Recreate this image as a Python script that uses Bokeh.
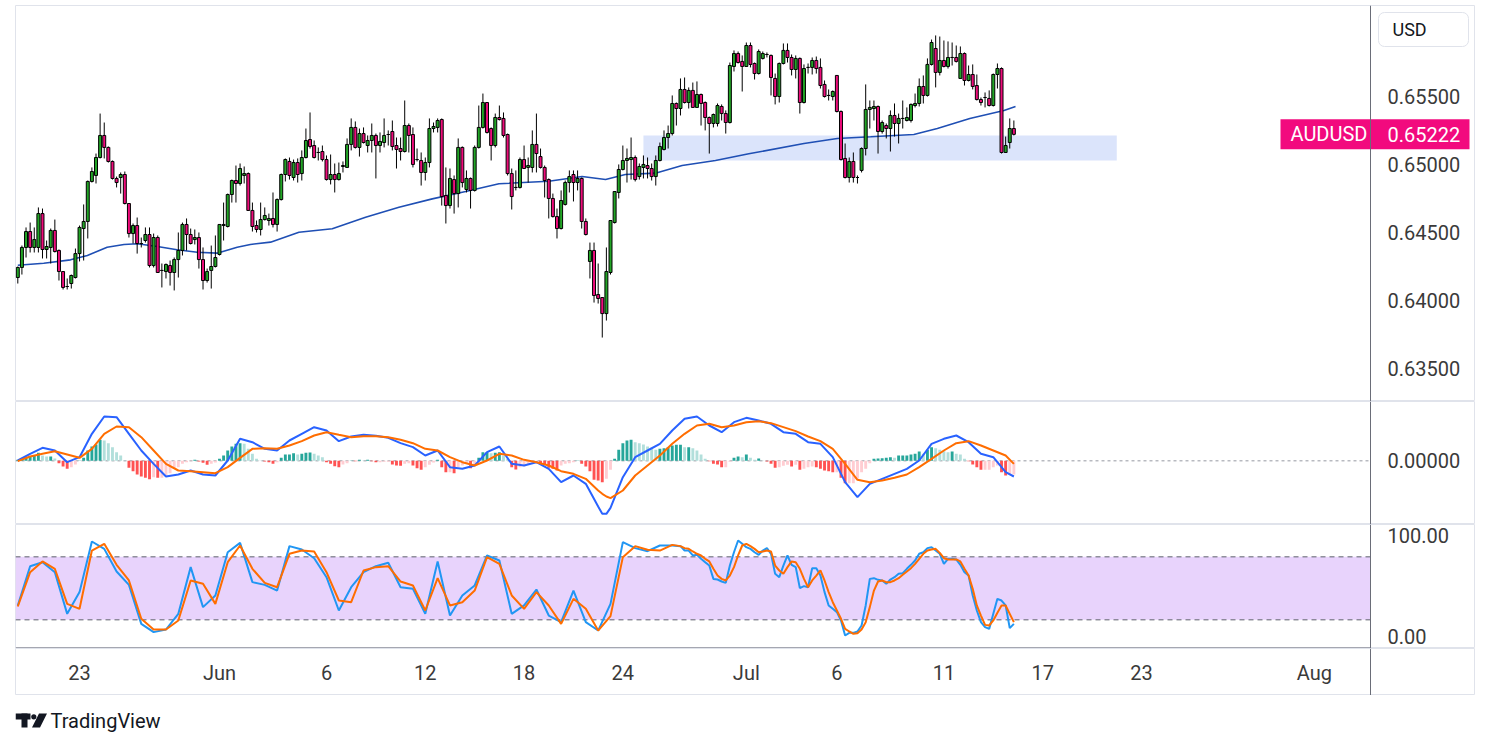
from bokeh.plotting import figure
from bokeh.layouts import column
from bokeh.models import Range1d, Span, ColumnDataSource
from bokeh.embed import file_html
from bokeh.resources import INLINE
from bokeh.core.properties import value

# ---------------- data (4H AUDUSD candles) ----------------
opens = [0.64170, 0.64244, 0.64391, 0.64508, 0.64391, 0.64391, 0.64640, 0.64376, 0.64391, 0.64516,
 0.64369, 0.64214, 0.64104, 0.64126, 0.64170, 0.64346, 0.64530, 0.64582, 0.64876, 0.64920,
 0.65052, 0.65214, 0.65126, 0.65023, 0.64898, 0.64905, 0.64927, 0.64714, 0.64493, 0.64552,
 0.64420, 0.64442, 0.64486, 0.64258, 0.64464, 0.64222, 0.64214, 0.64258, 0.64207, 0.64302,
 0.64369, 0.64560, 0.64486, 0.64449, 0.64464, 0.64302, 0.64148, 0.64222, 0.64251, 0.64339,
 0.64552, 0.64545, 0.64780, 0.64883, 0.64861, 0.64920, 0.64934, 0.64663, 0.64552, 0.64523,
 0.64596, 0.64589, 0.64604, 0.64560, 0.64743, 0.64927, 0.65023, 0.64905, 0.65015, 0.64934,
 0.65052, 0.65184, 0.65140, 0.65089, 0.65096, 0.65037, 0.64890, 0.64927, 0.64890, 0.64986,
 0.64979, 0.65148, 0.65273, 0.65126, 0.65228, 0.65140, 0.65177, 0.65214, 0.65140, 0.65162,
 0.65221, 0.65243, 0.65140, 0.65118, 0.65096, 0.65287, 0.65221, 0.65037, 0.65030, 0.64942,
 0.65015, 0.65265, 0.65273, 0.65331, 0.64773, 0.64699, 0.64890, 0.64787, 0.65126, 0.64817,
 0.64898, 0.64810, 0.65126, 0.65273, 0.65456, 0.65265, 0.65140, 0.65346, 0.65339, 0.65221,
 0.64934, 0.64832, 0.64832, 0.65037, 0.64979, 0.64979, 0.65148, 0.65059, 0.64979, 0.64890,
 0.64751, 0.64618, 0.64530, 0.64707, 0.64868, 0.64927, 0.64868, 0.64898, 0.64582, 0.64288,
 0.64369, 0.64045, 0.64023, 0.63905, 0.64207, 0.64574, 0.64795, 0.64964, 0.65030, 0.65037,
 0.65052, 0.64912, 0.64979, 0.64993, 0.64971, 0.64912, 0.65030, 0.65111, 0.65199, 0.65228,
 0.65449, 0.65412, 0.65552, 0.65456, 0.65545, 0.65420, 0.65515, 0.65456, 0.65346, 0.65302,
 0.65302, 0.65427, 0.65375, 0.65309, 0.65721, 0.65816, 0.65758, 0.65721, 0.65875, 0.65743,
 0.65669, 0.65780, 0.65809, 0.65802, 0.65633, 0.65500, 0.65743, 0.65839, 0.65787, 0.65699,
 0.65780, 0.65456, 0.65714, 0.65714, 0.65765, 0.65714, 0.65589, 0.65508, 0.65500, 0.65655,
 0.65390, 0.65045, 0.64905, 0.65023, 0.64905, 0.64957, 0.65118, 0.65405, 0.65412, 0.65427,
 0.65243, 0.65287, 0.65265, 0.65361, 0.65302, 0.65339, 0.65324, 0.65324, 0.65434, 0.65449,
 0.65574, 0.65508, 0.65736, 0.65853, 0.65677, 0.65765, 0.65721, 0.65787, 0.65787, 0.65633,
 0.65816, 0.65618, 0.65662, 0.65581, 0.65478, 0.65493, 0.65486, 0.65434, 0.65662, 0.65706,
 0.65089, 0.65162, 0.65265]

highs = [0.64251, 0.64405, 0.64538, 0.64574, 0.64538, 0.64685, 0.64677, 0.64442, 0.64530, 0.64596,
 0.64376, 0.64214, 0.64163, 0.64192, 0.64383, 0.64552, 0.64707, 0.64883, 0.64979, 0.65081,
 0.65375, 0.65309, 0.65133, 0.65030, 0.64912, 0.64942, 0.64949, 0.64714, 0.64567, 0.64611,
 0.64464, 0.64538, 0.64538, 0.64493, 0.64479, 0.64273, 0.64273, 0.64295, 0.64317, 0.64501,
 0.64574, 0.64604, 0.64530, 0.64523, 0.64501, 0.64391, 0.64236, 0.64405, 0.64479, 0.64560,
 0.64721, 0.64787, 0.64890, 0.64993, 0.65008, 0.64986, 0.64942, 0.64721, 0.64589, 0.64721,
 0.64685, 0.64640, 0.64795, 0.64751, 0.64934, 0.65045, 0.65052, 0.65037, 0.65045, 0.65104,
 0.65265, 0.65383, 0.65177, 0.65126, 0.65140, 0.65067, 0.65074, 0.65008, 0.65015, 0.65023,
 0.65192, 0.65339, 0.65317, 0.65265, 0.65273, 0.65214, 0.65302, 0.65228, 0.65236, 0.65339,
 0.65251, 0.65324, 0.65199, 0.65199, 0.65471, 0.65302, 0.65273, 0.65118, 0.65089, 0.65052,
 0.65339, 0.65309, 0.65339, 0.65339, 0.64979, 0.64971, 0.64920, 0.65192, 0.65133, 0.64957,
 0.64905, 0.65140, 0.65434, 0.65522, 0.65456, 0.65273, 0.65375, 0.65434, 0.65383, 0.65228,
 0.64971, 0.64957, 0.65052, 0.65140, 0.65052, 0.65251, 0.65375, 0.65118, 0.64993, 0.64898,
 0.64787, 0.64677, 0.64810, 0.64883, 0.64957, 0.64957, 0.64957, 0.64905, 0.64604, 0.64427,
 0.64427, 0.64273, 0.64023, 0.64391, 0.64589, 0.64802, 0.65001, 0.65140, 0.65118, 0.65199,
 0.65067, 0.65008, 0.65067, 0.65052, 0.65008, 0.65067, 0.65162, 0.65251, 0.65287, 0.65508,
 0.65456, 0.65633, 0.65640, 0.65567, 0.65603, 0.65611, 0.65522, 0.65464, 0.65353, 0.65375,
 0.65449, 0.65442, 0.65398, 0.65750, 0.65839, 0.65831, 0.65802, 0.65897, 0.65897, 0.65750,
 0.65846, 0.65831, 0.65824, 0.65809, 0.65669, 0.65750, 0.65890, 0.65890, 0.65809, 0.65802,
 0.65787, 0.65736, 0.65743, 0.65787, 0.65794, 0.65780, 0.65618, 0.65552, 0.65545, 0.65655,
 0.65398, 0.65155, 0.65052, 0.65089, 0.64920, 0.65126, 0.65589, 0.65471, 0.65471, 0.65434,
 0.65324, 0.65302, 0.65398, 0.65449, 0.65375, 0.65471, 0.65420, 0.65449, 0.65522, 0.65633,
 0.65655, 0.65780, 0.65919, 0.65949, 0.65941, 0.65912, 0.65905, 0.65897, 0.65875, 0.65868,
 0.65824, 0.65728, 0.65736, 0.65662, 0.65493, 0.65530, 0.65545, 0.65669, 0.65743, 0.65714,
 0.65206, 0.65339, 0.65324]

lows = [0.64126, 0.64192, 0.64317, 0.64354, 0.64354, 0.64354, 0.64310, 0.64310, 0.64273, 0.64354,
 0.64148, 0.64082, 0.64082, 0.64089, 0.64163, 0.64288, 0.64295, 0.64457, 0.64868, 0.64861,
 0.65045, 0.65045, 0.65015, 0.64890, 0.64832, 0.64787, 0.64707, 0.64464, 0.64420, 0.64346,
 0.64391, 0.64427, 0.64244, 0.64244, 0.64207, 0.64097, 0.64163, 0.64111, 0.64075, 0.64170,
 0.64332, 0.64369, 0.64413, 0.64413, 0.64236, 0.64082, 0.64133, 0.64089, 0.64244, 0.64332,
 0.64442, 0.64538, 0.64721, 0.64721, 0.64846, 0.64861, 0.64663, 0.64508, 0.64501, 0.64479,
 0.64589, 0.64552, 0.64538, 0.64508, 0.64736, 0.64876, 0.64890, 0.64883, 0.64868, 0.64883,
 0.65045, 0.65118, 0.65045, 0.65030, 0.65023, 0.64883, 0.64854, 0.64795, 0.64883, 0.64942,
 0.64979, 0.65104, 0.65118, 0.65059, 0.65155, 0.65089, 0.65089, 0.64898, 0.65089, 0.65126,
 0.65140, 0.65104, 0.64971, 0.65030, 0.65089, 0.65089, 0.64979, 0.65023, 0.64846, 0.64883,
 0.64979, 0.65236, 0.65236, 0.64699, 0.64567, 0.64677, 0.64640, 0.64685, 0.64832, 0.64795,
 0.64677, 0.64802, 0.65118, 0.65265, 0.65228, 0.65030, 0.65126, 0.65324, 0.65199, 0.64920,
 0.64670, 0.64810, 0.64824, 0.64971, 0.64868, 0.64942, 0.64942, 0.64971, 0.64758, 0.64604,
 0.64611, 0.64457, 0.64523, 0.64699, 0.64795, 0.64729, 0.64810, 0.64530, 0.64479, 0.64163,
 0.63986, 0.63979, 0.63729, 0.63854, 0.64192, 0.64567, 0.64751, 0.64957, 0.64868, 0.64890,
 0.64876, 0.64890, 0.64898, 0.64898, 0.64883, 0.64846, 0.65023, 0.65104, 0.65118, 0.65214,
 0.65287, 0.65361, 0.65449, 0.65412, 0.65420, 0.65420, 0.65287, 0.65251, 0.65081, 0.65273,
 0.65280, 0.65324, 0.65228, 0.65302, 0.65684, 0.65743, 0.65537, 0.65721, 0.65714, 0.65625,
 0.65662, 0.65772, 0.65787, 0.65508, 0.65442, 0.65456, 0.65736, 0.65750, 0.65655, 0.65633,
 0.65375, 0.65449, 0.65669, 0.65662, 0.65669, 0.65559, 0.65493, 0.65471, 0.65471, 0.65383,
 0.65030, 0.64898, 0.64868, 0.64868, 0.64861, 0.64942, 0.65067, 0.65265, 0.65324, 0.65081,
 0.65228, 0.65192, 0.65096, 0.65206, 0.65155, 0.65265, 0.65317, 0.65309, 0.65420, 0.65427,
 0.65449, 0.65500, 0.65728, 0.65567, 0.65655, 0.65714, 0.65706, 0.65728, 0.65750, 0.65633,
 0.65581, 0.65611, 0.65552, 0.65471, 0.65434, 0.65420, 0.65427, 0.65427, 0.65559, 0.65081,
 0.65089, 0.65118, 0.65214]

closes = [0.64244, 0.64391, 0.64508, 0.64391, 0.64449, 0.64640, 0.64376, 0.64398, 0.64516, 0.64361,
 0.64214, 0.64097, 0.64104, 0.64185, 0.64346, 0.64538, 0.64582, 0.64876, 0.64949, 0.65052,
 0.65214, 0.65126, 0.65023, 0.64898, 0.64868, 0.64927, 0.64714, 0.64493, 0.64552, 0.64420,
 0.64420, 0.64486, 0.64258, 0.64464, 0.64207, 0.64222, 0.64266, 0.64207, 0.64302, 0.64369,
 0.64560, 0.64486, 0.64420, 0.64464, 0.64302, 0.64148, 0.64214, 0.64251, 0.64317, 0.64560,
 0.64560, 0.64780, 0.64883, 0.64861, 0.64971, 0.64934, 0.64663, 0.64545, 0.64523, 0.64596,
 0.64626, 0.64604, 0.64560, 0.64743, 0.64927, 0.65037, 0.64920, 0.65015, 0.64927, 0.65052,
 0.65177, 0.65133, 0.65052, 0.65089, 0.65037, 0.64890, 0.64927, 0.64890, 0.64934, 0.64993,
 0.65148, 0.65273, 0.65126, 0.65228, 0.65162, 0.65177, 0.65214, 0.65140, 0.65170, 0.65214,
 0.65221, 0.65133, 0.65111, 0.65096, 0.65287, 0.65214, 0.65001, 0.65037, 0.64942, 0.65015,
 0.65265, 0.65280, 0.65324, 0.64765, 0.64699, 0.64898, 0.64787, 0.65126, 0.64868, 0.64898,
 0.64810, 0.65126, 0.65273, 0.65456, 0.65236, 0.65140, 0.65346, 0.65331, 0.65214, 0.64934,
 0.64765, 0.64832, 0.65037, 0.64971, 0.64993, 0.65148, 0.65081, 0.64979, 0.64883, 0.64751,
 0.64618, 0.64530, 0.64736, 0.64868, 0.64912, 0.64868, 0.64898, 0.64582, 0.64486, 0.64369,
 0.64038, 0.64016, 0.63905, 0.64214, 0.64589, 0.64802, 0.64964, 0.65030, 0.65045, 0.65052,
 0.64890, 0.64986, 0.65001, 0.64971, 0.64912, 0.65030, 0.65133, 0.65199, 0.65228, 0.65449,
 0.65412, 0.65552, 0.65456, 0.65545, 0.65420, 0.65515, 0.65449, 0.65346, 0.65302, 0.65368,
 0.65434, 0.65375, 0.65309, 0.65728, 0.65816, 0.65750, 0.65721, 0.65875, 0.65736, 0.65669,
 0.65831, 0.65816, 0.65809, 0.65640, 0.65500, 0.65743, 0.65839, 0.65787, 0.65699, 0.65780,
 0.65456, 0.65706, 0.65714, 0.65765, 0.65706, 0.65581, 0.65500, 0.65508, 0.65537, 0.65390,
 0.65037, 0.64905, 0.65023, 0.64905, 0.64905, 0.65118, 0.65405, 0.65420, 0.65427, 0.65243,
 0.65309, 0.65265, 0.65361, 0.65302, 0.65339, 0.65339, 0.65346, 0.65442, 0.65449, 0.65574,
 0.65508, 0.65736, 0.65897, 0.65677, 0.65765, 0.65721, 0.65787, 0.65787, 0.65758, 0.65816,
 0.65618, 0.65662, 0.65574, 0.65478, 0.65456, 0.65493, 0.65434, 0.65662, 0.65706, 0.65089,
 0.65140, 0.65265, 0.65222]

# 200-period moving average (sampled points)
ma_idx = [0, 6.3, 12.8, 16.9, 21.7, 25.8, 29, 33.9, 38.7, 43.6, 48.4, 53.3, 56.5, 61.4, 68.3, 76.4,
          84.5, 92.6, 100.7, 108.8, 116.9, 129, 137.1, 142.8, 147.6, 154.9, 161.4, 169.5, 177.6,
          191, 199.1, 207.2, 217.7, 223.4, 231.3, 239.6, 242.4]
ma_val = [0.64260, 0.64275, 0.64300, 0.64332, 0.64393, 0.64413, 0.64418, 0.64398, 0.64374, 0.64356,
          0.64349, 0.64393, 0.64413, 0.64430, 0.64503, 0.64528, 0.64613, 0.64687, 0.64748, 0.64802,
          0.64859, 0.64878, 0.64912, 0.64890, 0.64927, 0.64937, 0.64993, 0.65030, 0.65079, 0.65155,
          0.65192, 0.65204, 0.65221, 0.65265, 0.65339, 0.65398, 0.65427]

# support zone
zone_start = [152]
zone_end = [267]
zone_low = [0.65030]
zone_high = [0.65214]
symbol = "AUDUSD"
currency = "USD"
last_price = 0.65222

# price scale ticks
price_ticks = [0.655, 0.650, 0.645, 0.640, 0.635]
price_tick_labels = ["0.65500", "0.65000", "0.64500", "0.64000", "0.63500"]

# MACD (12, 26, 9)
macd_idx = [0, 3, 6, 9, 12, 15, 18, 21, 24, 27, 30, 33, 36, 39, 42, 45, 48, 51, 54, 57, 60, 63, 66,
            69, 72, 75, 78, 81, 84, 87, 90, 93, 96, 99, 102, 105, 108, 111, 114, 117, 120, 123, 126,
            129, 132, 135, 138, 141, 142, 143, 144, 147, 150, 153, 156, 159, 162, 165, 168, 171, 174,
            177, 180, 183, 186, 189, 192, 195, 198, 201, 204, 207, 210, 213, 216, 219, 222, 225, 228,
            231, 234, 237, 240, 242]
macd_line = [0.000005, 0.000105, 0.000195, 0.000155, -0.00002, 0.000055, 0.000405, 0.000665, 0.000655,
             0.000405, 0.000155, -0.000045, -0.000235, -0.000205, -0.000145, -0.000205, -0.00022,
             0.000005, 0.00033, 0.00028, 0.00018, 0.000155, 0.000305, 0.000405, 0.000505, 0.000455,
             0.000295, 0.000365, 0.00039, 0.000375, 0.000345, 0.000265, 0.000205, 0.00008, 0.000155,
             -0.000095, -0.00012, -0.00007, 0.00013, 0.000215, -0.000045, -0.00007, -0.00002, -0.00012,
             -0.00032, -0.00022, -0.000345, -0.000685, -0.000795, -0.000795, -0.000705, -0.000245,
             0.000055, 0.000155, 0.000255, 0.000455, 0.00063, 0.000665, 0.00053, 0.00043, 0.00058,
             0.000645, 0.000605, 0.000555, 0.00043, 0.000405, 0.00028, 0.000255, 0.000055, -0.00032,
             -0.000545, -0.000345, -0.00027, -0.000195, -0.00012, 0.000005, 0.000255, 0.00033, 0.00038,
             0.00028, 0.000105, 0.000055, -0.00017, -0.000235]
signal_line = [-0.000005, 0.000065, 0.000105, 0.000145, 0.000095, 0.000045, 0.00018, 0.000405, 0.000515,
               0.000505, 0.000355, 0.000155, -0.000045, -0.000145, -0.000155, -0.00017, -0.000185,
               -0.000095, 0.000045, 0.00018, 0.00019, 0.00018, 0.00023, 0.000295, 0.00038, 0.00043,
               0.00039, 0.000355, 0.00037, 0.00037, 0.000355, 0.000315, 0.000265, 0.00018, 0.000155,
               0.000055, -0.00002, -0.00007, 0.000005, 0.000105, 0.00008, 0.000015, -0.00002, -0.00007,
               -0.000155, -0.000195, -0.00027, -0.000445, -0.000495, -0.000535, -0.00056, -0.000445,
               -0.00022, -0.00007, 0.00008, 0.000255, 0.000405, 0.00053, 0.000555, 0.000505, 0.00053,
               0.00058, 0.000595, 0.000565, 0.000505, 0.000445, 0.000365, 0.000295, 0.00018, -0.000045,
               -0.000285, -0.00032, -0.000295, -0.000255, -0.000205, -0.000095, 0.00003, 0.000155,
               0.000265, 0.000295, 0.00023, 0.000155, 0.00008, -0.000045]
hist = [0.000015, 0.00003, 0.000055, 0.000065, 0.00008, 0.00012, 0.00008, 0.000065, 0.000065, 0.000035,
 -0.000035, -0.000085, -0.00012, -0.000095, -0.000055, 0.000005, 0.000045, 0.000155, 0.000215, 0.000245,
 0.000315, 0.000305, 0.000265, 0.000205, 0.00013, 0.00008, 0.000005, -0.000105, -0.000155, -0.000205,
 -0.000235, -0.000255, -0.000275, -0.000245, -0.000255, -0.000255, -0.00022, -0.000185, -0.00012, -0.000095,
 -0.000045, -0.00002, -0.000005, 0.000015, -0.00001, -0.00003, -0.00006, -0.000045, -0.000025, 0.00003,
 0.00008, 0.000155, 0.000215, 0.000255, 0.000265, 0.000255, 0.00018, 0.000105, 0.00003, 0.000005,
 -0.00001, -0.00002, -0.000045, -0.00002, 0.000045, 0.000095, 0.000095, 0.000115, 0.000095, 0.000105,
 0.00012, 0.000125, 0.000105, 0.00008, 0.000055, -0.00002, -0.000045, -0.00008, -0.000095, -0.000055,
 -0.000035, 0.000005, -0.000005, 0.000015, 0.000005, 0.000015, -0.000005, -0.00002, -0.00002, -0.000015,
 -0.000015, -0.000055, -0.00007, -0.000075, -0.000045, -0.000035, -0.00007, -0.00011, -0.000135, -0.000095,
 -0.00006, -0.000025, 0.000015, -0.000095, -0.00017, -0.00017, -0.000185, -0.000095, -0.00007, -0.000045,
 -0.00011, -0.00007, 0.000045, 0.00013, 0.00013, 0.000115, 0.00012, 0.00013, 0.00008, 0.00003,
 -0.000095, -0.00013, -0.000095, -0.000085, -0.000055, -0.00002, -0.00001, -0.000035, -0.000055, -0.000105,
 -0.00012, -0.000145, -0.00007, -0.000045, -0.000035, -0.00002, 0.000005, -0.000045, -0.000085, -0.000155,
 -0.000285, -0.000295, -0.00032, -0.00027, -0.000135, 0.00003, 0.000165, 0.000265, 0.000305, 0.000315,
 0.00028, 0.000265, 0.000245, 0.000215, 0.000195, 0.000165, 0.00018, 0.00019, 0.000205, 0.00023,
 0.00024, 0.00024, 0.000205,
 0.000205, 0.00019, 0.000155, 0.000095, 0.00003, -0.000005, -0.000045, -0.000055, -0.000095, -0.000095,
 -0.000015, 0.000045, 0.000065, 0.000055, 0.000095, 0.000045, 0.000015, 0.000035, 0.000005, -0.00001,
 -0.000045, -0.000105, -0.000095, -0.000075, -0.00006, -0.000085, -0.00006, -0.000135, -0.00012, -0.000095,
 -0.000085, -0.000095, -0.00012, -0.000145, -0.000155, -0.00017, -0.00017, -0.000255, -0.000335, -0.000335,
 -0.000335, -0.00027, -0.00017, -0.00012, -0.000035, 0.00003, 0.000035, 0.00004, 0.000045, 0.000055,
 0.000045, 0.00008, 0.00008, 0.00008, 0.000095, 0.000105, 0.00014, 0.000105, 0.000165, 0.000205,
 0.00019, 0.000165, 0.000145, 0.00013, 0.00014, 0.000105, 0.000095, 0.00003, -0.000005, -0.000055,
 -0.000095, -0.000135, -0.000135, -0.000135, -0.000095, -0.00007, -0.00017, -0.00022, -0.000205, -0.000205]
macd_ticks = [0.0]
macd_tick_labels = ["0.00000"]

# Stochastic (%K, %D)
stoch_idx = list(range(0, 160, 3)) + list(range(161, 243))
stoch_k = [33.7, 71.1, 74.9, 65.4, 25.7, 46.4, 94.6, 87.6, 66.0, 53.3, 16.2, 8.3, 10.8, 25.7, 70.2,
           32.1, 43.2, 84.4, 93.3, 55.9, 53.3, 47.9, 90.2, 87.0, 78.7, 60.6, 28.9, 51.1, 65.4, 71.1,
           74.3, 51.1, 49.5, 25.7, 75.6, 24.1, 43.2, 52.7, 81.3, 76.5, 25.7, 33.7, 48.9, 24.1, 17.8,
           47.9, 17.8, 9.8, 35.2, 94.0, 88.3, 85.4, 90.8, 90.8,
           90.2, 86.0, 86.0, 81.3, 81.9, 78.1, 74.9, 71.7, 59.0, 58.4, 56.5, 55.2, 71.7, 84.4, 95.6,
           92.4, 89.2, 87.6, 84.4, 81.9, 86.0, 88.3, 82.9, 63.8, 60.6, 71.7, 81.3, 72.4, 70.2, 50.2,
           52.1, 51.1, 69.2, 69.2, 62.2, 46.4, 33.7, 30.5, 27.3, 19.4, 5.1, 7.6, 7.6, 8.9, 14.6,
           33.7, 59.0, 59.7, 58.1, 57.5, 54.3, 58.4, 60.6, 63.8, 64.4, 68.6, 72.4, 76.5, 82.9, 84.4,
           88.3, 89.2, 86.0, 82.9, 73.3, 78.1, 78.1, 77.5, 72.4, 65.4, 62.2, 43.2, 28.9, 17.8, 13.0,
           11.4, 25.7, 40.0, 38.4, 33.7, 12.1, 16.2]
stoch_d = [32.7, 65.4, 75.6, 68.6, 35.2, 30.5, 86.0, 92.4, 72.4, 57.5, 21.0, 10.8, 10.8, 19.4, 57.5,
           54.3, 35.2, 74.9, 90.8, 68.6, 55.2, 51.1, 82.9, 86.0, 85.1, 65.4, 38.4, 36.8, 67.0, 70.2,
           71.1, 56.5, 52.7, 28.9, 59.7, 33.7, 36.8, 47.9, 79.7, 73.3, 43.2, 30.5, 46.4, 33.7, 16.2,
           40.0, 30.5, 9.8, 23.5, 79.7, 90.2, 86.7, 86.0, 91.4,
           90.2, 88.3, 87.6, 85.1, 82.9, 81.3, 78.1, 75.6, 68.6, 62.2, 59.0, 57.5, 62.2, 70.2, 81.3,
           90.8, 92.4, 90.2, 87.6, 84.4, 85.1, 86.0, 85.1, 71.7, 67.0, 63.8, 70.2, 75.6, 74.9, 68.6,
           59.0, 51.1, 57.5, 62.2, 67.0, 57.5, 46.4, 36.8, 28.9, 21.0, 11.4, 8.9, 6.7, 7.3, 10.8,
           17.8, 32.1, 47.9, 56.5, 57.5, 55.9, 55.9, 57.5, 59.7, 62.9, 66.0, 69.2, 73.3, 78.1, 82.9,
           86.0, 87.0, 87.6, 83.8, 78.7, 77.5, 77.5, 77.5, 75.6, 68.6, 62.2, 49.5, 33.7, 24.1, 15.2,
           14.6, 19.4, 26.7, 33.7, 33.7, 25.7, 17.8]
stoch_upper = 80
stoch_lower = 20
stoch_ticks = [100, 0]
stoch_tick_labels = ["100.00", "0.00"]

# time axis
tick_idx = [15, 49, 75, 99, 123, 147, 177, 199, 225, 249, 273, 315]
tick_labels = ["23", "Jun", "6", "12", "18", "24", "Jul", "6", "11", "17", "23", "Aug"]

# ---------------- layout / styling constants ----------------
FONT = "Roboto"
W = 1475
UP = "#22a526"
DOWN = "#ee0c7b"
LABEL_PINK = "#f20a7e"
AXIS_TEXT = "#3a3a3a"
SCALE_LINE = "#6a6d78"
BORDER = "#e0e3eb"
PX = 4.116                       # pixels per bar
X0 = -0.559                      # bar index at the left frame edge
X_SCALE = X0 + 1355 / PX         # bar index at the price-scale border
X_END = X0 + 1460 / PX           # bar index at the right edge
X_LABEL = X0 + 1372 / PX         # scale label position
xr = Range1d(X0, X_END)


def base_fig(h, yr, top=0):
    p = figure(width=W, height=h, x_range=xr, y_range=yr, output_backend="svg",
               toolbar_location=None, y_axis_location=None, x_axis_location=None,
               min_border_left=15, min_border_right=0, min_border_top=top,
               min_border_bottom=0)
    p.grid.visible = False
    p.outline_line_color = BORDER
    p.background_fill_color = "white"
    p.border_fill_color = "white"
    return p


def scale_labels(p, ticks, labels, nudge_px=None):
    # nudge_px: per-label vertical shift (pixels, upward) to keep text inside its pane
    if nudge_px is None:
        nudge_px = [0] * len(ticks)
    upp = (p.y_range.end - p.y_range.start) / (p.height - p.min_border_top - p.min_border_bottom)
    ys = [t + n * upp for t, n in zip(ticks, nudge_px)]
    p.text(x=[X_LABEL] * len(ticks), y=ys, text=labels, text_font=value(FONT),
           text_font_size="20px", text_color=AXIS_TEXT, text_align="left",
           text_baseline="middle")


def scale_border(p):
    p.add_layout(Span(location=X_SCALE, dimension="height", line_color=SCALE_LINE,
                      line_width=1))


# ---------------- price panel ----------------
PY_TOP, PY_BOT = 0.66169, 0.63259
p1 = base_fig(401, Range1d(PY_BOT, PY_TOP), top=5)
p1.quad(left=zone_start, right=zone_end, bottom=zone_low, top=zone_high,
        fill_color="#dbe4fb", line_color=None)
p1.line(ma_idx, ma_val, line_color="#1f4fb4", line_width=1.6)

idx = list(range(len(opens)))
src = ColumnDataSource(dict(
    x=idx, h=highs, l=lows,
    top=[max(o, c) for o, c in zip(opens, closes)],
    bottom=[min(o, c) for o, c in zip(opens, closes)],
    color=[UP if c >= o else DOWN for o, c in zip(opens, closes)]))
p1.segment(x0="x", y0="l", x1="x", y1="h", source=src, line_color="#000000", line_width=1)
p1.vbar(x="x", width=0.72, top="top", bottom="bottom", source=src,
        fill_color="color", line_color="#000000", line_width=1)

scale_labels(p1, price_ticks, price_tick_labels)

# last-price tag (spans chart edge and price scale)
ppx = (PY_TOP - PY_BOT) / 396.0   # price per pixel
p1.quad(left=[X0 + 1265 / PX], right=[X0 + 1454 / PX],
        bottom=[last_price - 15 * ppx], top=[last_price + 15 * ppx],
        fill_color=LABEL_PINK, line_color=None)
p1.text(x=[X0 + 1275 / PX], y=[last_price], text=[symbol], text_font=value(FONT),
        text_font_size="20px", text_color="white", text_align="left", text_baseline="middle")
p1.text(x=[X_LABEL], y=[last_price], text=["%.5f" % last_price], text_font=value(FONT),
        text_font_size="20px", text_color="white", text_align="left", text_baseline="middle")

# currency box
p1.quad(left=[X0 + 1363 / PX], right=[X0 + 1453 / PX],
        bottom=[PY_TOP - 41 * ppx], top=[PY_TOP - 7 * ppx],
        fill_color="white", line_color=BORDER, line_width=1, border_radius=6)
p1.text(x=[X0 + 1377 / PX], y=[PY_TOP - 24 * ppx], text=[currency], text_font=value(FONT),
        text_font_size="18px", text_color="#131722", text_align="left", text_baseline="middle")
scale_border(p1)

# ---------------- MACD panel ----------------
p2 = base_fig(123, Range1d(-0.000955, 0.00089))
p2.segment(x0=[X0], x1=[X_SCALE], y0=[0], y1=[0], line_color="#9598a1", line_dash="3 3",
           line_width=1)
hist_colors = []
prev = 0.0
for hv in hist:
    if hv >= 0:
        hist_colors.append("#26a69a" if hv >= prev else "#b2dfdb")
    else:
        hist_colors.append("#ff5252" if hv < prev else "#ffcdd2")
    prev = hv
p2.vbar(x=idx, top=hist, bottom=0, width=0.7, fill_color=hist_colors, line_color=None)
p2.line(macd_idx, macd_line, line_color="#2962ff", line_width=2)
p2.line(macd_idx, signal_line, line_color="#ff6d00", line_width=2)
scale_labels(p2, macd_ticks, macd_tick_labels)
scale_border(p2)

# ---------------- Stochastic panel ----------------
SY_BOT, SY_TOP = -7.3, 110.8
p3 = base_fig(124, Range1d(SY_BOT, SY_TOP))
p3.quad(left=[X0], right=[X_SCALE], bottom=[stoch_lower], top=[stoch_upper],
        fill_color="#e8d3fc", line_color=None)
for lv in (stoch_lower, stoch_upper):
    p3.segment(x0=[X0], x1=[X_SCALE], y0=[lv], y1=[lv], line_color="#5d606b",
               line_dash="5 4", line_width=1)
p3.line(stoch_idx, stoch_k, line_color="#2196f3", line_width=2)
p3.line(stoch_idx, stoch_d, line_color="#ff6d00", line_width=2)
scale_labels(p3, stoch_ticks, stoch_tick_labels, nudge_px=[0, 4])
scale_border(p3)
# time-axis border under the chart area only
p3.segment(x0=[X0], x1=[X_SCALE], y0=[SY_BOT], y1=[SY_BOT], line_color=SCALE_LINE, line_width=2)

# ---------------- time axis strip ----------------
p5 = base_fig(47, Range1d(47, 0))
p5.text(x=tick_idx, y=[24] * len(tick_idx), text=tick_labels, text_font=value(FONT),
        text_font_size="20px", text_color=AXIS_TEXT, text_align="center",
        text_baseline="middle")
scale_border(p5)

# ---------------- logo row (x in pixels from the chart's left edge) ----------------
p4 = figure(width=W, height=45, x_range=Range1d(0, 1460), y_range=Range1d(45, 0),
            output_backend="svg", toolbar_location=None, x_axis_location=None,
            y_axis_location=None, min_border_left=15, min_border_right=0,
            min_border_top=0, min_border_bottom=0)
p4.grid.visible = False
p4.outline_line_color = None
p4.quad(left=[0, 6], right=[15, 12], top=[18, 18], bottom=[24, 32],
        fill_color="#131722", line_color=None)
p4.circle(x=[18.3], y=[21.3], radius=2.6, fill_color="#131722", line_color=None)
p4.patch(x=[23.5, 31.5, 24.5, 16.5], y=[18, 18, 32, 32], fill_color="#131722", line_color=None)
p4.text(x=[35], y=[25], text=["TradingView"], text_font=value(FONT), text_font_size="20px",
        text_color="#131722", text_baseline="middle", text_align="left")

layout = column(p1, p2, p3, p5, p4)
open("out.html", "w").write(file_html(layout, INLINE))
